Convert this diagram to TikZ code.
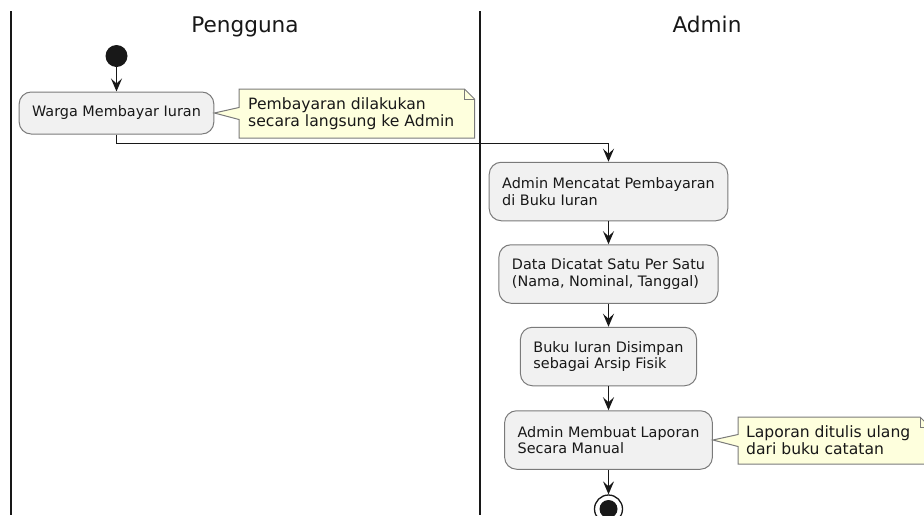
\documentclass[tikz,border=0pt]{standalone}
\usepackage{fontspec}
\setmainfont{DejaVu Sans}
\usetikzlibrary{arrows.meta}
\definecolor{actfill}{HTML}{F1F1F1}
\definecolor{notefill}{HTML}{FEFFDD}
\definecolor{ink}{HTML}{181818}
\definecolor{edge}{HTML}{7A7A7A}

\begin{document}
\begin{tikzpicture}[x=1pt,y=-1pt,
  lane/.style={draw=ink, line width=2pt},
  lanetitle/.style={font=\fontsize{21.6}{26}\selectfont, inner sep=0pt, anchor=base, text=ink},
  activity/.style={draw=edge, line width=1pt, fill=actfill, rounded corners=12pt,
    align=left, font=\fontsize{14.4}{16.7}\selectfont, text=ink, inner xsep=13pt, inner ysep=0pt},
  oneline/.style={minimum height=42pt},
  twoline/.style={minimum height=58.5pt},
  notetext/.style={align=left, font=\fontsize{15.6}{17.3}\selectfont, text=ink, inner sep=0pt, anchor=west},
  notebox/.style={draw=edge, line width=1pt, fill=notefill, line join=miter},
  notefold/.style={draw=edge, line width=1pt},
  flow/.style={draw=ink, line width=1.3pt, -{Stealth[length=13pt,width=11pt,inset=5pt]}},
  startnode/.style={circle, fill=ink, minimum size=22pt, inner sep=0pt},
  endnode/.style={circle, draw=ink, line width=1.3pt, fill=white, minimum size=28pt, inner sep=0pt},
  enddot/.style={circle, fill=ink, minimum size=18pt, inner sep=0pt},
]
\useasboundingbox (0,0) rectangle (924,515);
\clip (0,0) rectangle (924,515);

% swimlane borders and titles
\draw[lane] (11,11) -- (11,515);
\draw[lane] (479.5,11) -- (479.5,515);
\node[lanetitle] (lane1) at (245,32) {Pengguna};
\node[lanetitle] (lane2) at (707,32) {Admin};

% Pengguna lane
\node[startnode] (start) at (116.5,56) {};
\node[activity, oneline] (b1) at (116.5,113) {Warga Membayar Iuran};

% Admin lane
\node[activity, twoline] (b2) at (608.5,191.5) {Admin Mencatat Pembayaran\\di Buku Iuran};
\node[activity, twoline] (b3) at (608.5,274) {Data Dicatat Satu Per Satu\\(Nama, Nominal, Tanggal)};
\node[activity, twoline] (b4) at (608.5,356.5) {Buku Iuran Disimpan\\sebagai Arsip Fisik};
\node[activity, twoline] (b5) at (608.5,440) {Admin Membuat Laporan\\Secara Manual};
\node[endnode] (end) at (608.5,509) {};
\node[enddot] (enddot) at (end.center) {};

% notes
\draw[notebox] (239,89) -- (464.5,89) -- (474.5,99) -- (474.5,138) -- (239,138)
  -- (239,119.5) -- (b1.east) -- (239,107.5) -- cycle;
\draw[notefold] (464.5,89) -- (464.5,99) -- (474.5,99);
\node[notetext] (n1) at (248,113.5) {Pembayaran dilakukan\\secara langsung ke Admin};

\draw[notebox] (738,417) -- (920,417) -- (930,427) -- (930,464) -- (738,464)
  -- (738,446.5) -- (b5.east) -- (738,434.5) -- cycle;
\draw[notefold] (920,417) -- (920,427) -- (930,427);
\node[notetext] (n2) at (746,440.5) {Laporan ditulis ulang\\dari buku catatan};

% control flow
\draw[flow] (start) -- (b1);
\draw[flow] (b1.south) -- ++(0,9) -| (b2.north);
\draw[flow] (b2) -- (b3);
\draw[flow] (b3) -- (b4);
\draw[flow] (b4) -- (b5);
\draw[flow] (b5) -- (end);
\end{tikzpicture}
\end{document}
